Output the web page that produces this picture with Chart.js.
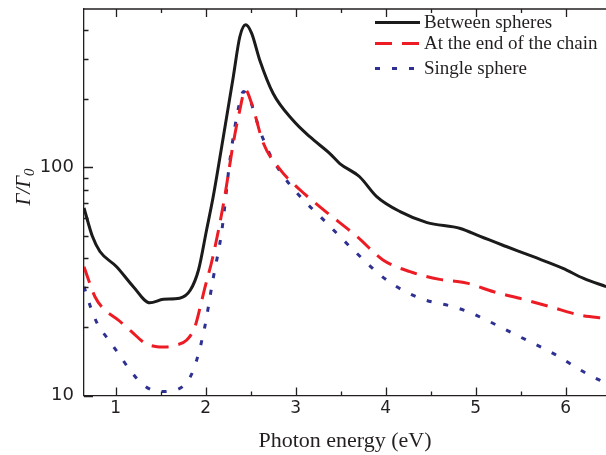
<!DOCTYPE html>
<html>
<head>
<meta charset="utf-8">
<script src="https://cdn.jsdelivr.net/npm/chart.js@4.4.1/dist/chart.umd.min.js"></script>
<style>
  html, body { margin: 0; padding: 0; background: #fff; }
  #chart { display: block; }
</style>
</head>
<body>
<canvas id="chart" width="606" height="455"></canvas>
<script>
// photon energy (eV) / decay-rate enhancement pairs for each configuration
var betweenE = [0.648, 0.74, 0.825, 1.01, 1.196, 1.38, 1.53, 1.71, 1.83, 1.92, 2.01, 2.084, 2.196, 2.307, 2.38, 2.444, 2.51, 2.60, 2.75, 2.97, 3.16, 3.38, 3.49, 3.71, 3.90, 4.16, 4.46, 4.83, 5.05, 5.34, 5.64, 5.97, 6.20, 6.45];
var betweenV = [66.4, 50, 42.8, 36.7, 30.0, 25.5, 26.4, 26.7, 29.0, 35.5, 53.2, 74.5, 136, 250, 375, 422, 388, 296, 211, 161, 136, 115, 104, 91, 74.5, 64, 57.3, 54, 49.8, 45, 40.6, 36.1, 32.6, 30.0];

var endE = [0.648, 0.70, 0.77, 0.86, 1.03, 1.18, 1.33, 1.44, 1.55, 1.66, 1.79, 1.88, 1.94, 1.98, 2.08, 2.20, 2.307, 2.38, 2.44, 2.51, 2.64, 2.83, 3.05, 3.31, 3.68, 3.97, 4.27, 4.60, 4.90, 5.20, 5.53, 5.83, 6.16, 6.45];
var endV = [36.7, 32, 27.1, 24.1, 21.4, 19.0, 16.9, 16.4, 16.3, 16.6, 17.5, 20.0, 24.5, 28.5, 40.6, 70, 128, 179, 219, 191, 128, 97.5, 79.6, 65.2, 49.8, 39.3, 34.9, 32.3, 31.1, 28.5, 26.4, 24.5, 22.5, 21.8];

var singleE = [0.648, 0.72, 0.80, 0.90, 1.03, 1.16, 1.31, 1.49, 1.68, 1.83, 1.90, 1.99, 2.08, 2.18, 2.27, 2.36, 2.42, 2.49, 2.60, 2.71, 2.84, 3.05, 3.31, 3.64, 4.01, 4.38, 4.75, 4.94, 5.12, 5.49, 5.86, 6.23, 6.45];
var singleV = [30.0, 24.5, 20.5, 18.0, 15.3, 12.9, 11.1, 10.4, 10.6, 12.1, 14.3, 20.0, 32.1, 53, 108, 179, 215, 198, 146, 115, 94.4, 74.5, 58.9, 43.5, 32.1, 26.7, 24.5, 23.1, 21.4, 18.1, 15.3, 12.5, 11.3];

var seriesNames = ["Between spheres", "At the end of the chain", "Single sphere"];

var xMajor = [1, 2, 3, 4, 5, 6];
var xMinor = [1.5, 2.5, 3.5, 4.5, 5.5];
var yMajor = [10, 100];
var yMinor = [20, 30, 40, 50, 60, 70, 80, 90, 200, 300, 400];

var X_MIN = 0.648, X_MAX = 6.448;
var Y_MIN = 10, Y_MAX = 495;
var AXIS = "#231f20";

function pairs(xs, ys) {
  var out = [];
  for (var i = 0; i < xs.length; i++) out.push({ x: xs[i], y: ys[i] });
  return out;
}

// ticks on all drawn sides point inwards, plus the top frame line
var frameTicks = {
  id: "frameTicks",
  afterDraw: function (chart) {
    var ctx = chart.ctx;
    var a = chart.chartArea;
    var xs = chart.scales.x, ys = chart.scales.y;
    ctx.save();
    ctx.strokeStyle = AXIS;
    ctx.lineWidth = 1.3;
    ctx.beginPath();
    ctx.moveTo(a.left, a.top);
    ctx.lineTo(a.right, a.top);
    function vt(v, len) {
      var px = Math.round(xs.getPixelForValue(v)) + 0.5;
      ctx.moveTo(px, a.bottom); ctx.lineTo(px, a.bottom - len);
      ctx.moveTo(px, a.top); ctx.lineTo(px, a.top + len);
    }
    function ht(v, len) {
      var py = Math.round(ys.getPixelForValue(v)) + 0.5;
      ctx.moveTo(a.left, py); ctx.lineTo(a.left + len, py);
    }
    xMajor.forEach(function (v) { vt(v, 8); });
    xMinor.forEach(function (v) { vt(v, 4); });
    yMajor.forEach(function (v) { ht(v, 9); });
    yMinor.forEach(function (v) { ht(v, 4.5); });
    ctx.stroke();
    ctx.restore();
  }
};

// rotated Γ/Γ0 label with subscript
var yLabel = {
  id: "yLabel",
  afterDraw: function (chart) {
    var ctx = chart.ctx;
    ctx.save();
    ctx.translate(23, 187);
    ctx.rotate(-Math.PI / 2);
    ctx.fillStyle = AXIS;
    ctx.textBaseline = "alphabetic";
    var main = "italic 21px 'Liberation Serif'";
    var sub = "italic 15px 'Liberation Serif'";
    ctx.font = main;
    var w1 = ctx.measureText("Γ/Γ").width;
    ctx.font = sub;
    var w2 = ctx.measureText("0").width;
    var x0 = -(w1 + w2) / 2;
    ctx.font = main;
    ctx.fillText("Γ/Γ", x0, 7);
    ctx.font = sub;
    ctx.fillText("0", x0 + w1, 11);
    ctx.restore();
  }
};

// legend box in the upper right corner of the plot
var legendBox = {
  id: "legendBox",
  afterDraw: function (chart) {
    var ctx = chart.ctx;
    var rows = [22.5, 43.5, 68.5];
    ctx.save();
    chart.data.datasets.forEach(function (ds, i) {
      var y = rows[i];
      ctx.strokeStyle = ds.borderColor;
      ctx.lineWidth = ds.borderWidth;
      ctx.setLineDash(ds.borderDash || []);
      ctx.beginPath();
      ctx.moveTo(375, y);
      ctx.lineTo(420, y);
      ctx.stroke();
      ctx.setLineDash([]);
      ctx.fillStyle = AXIS;
      ctx.font = "19px 'Liberation Serif'";
      ctx.textBaseline = "middle";
      ctx.fillText(ds.label, 424, y + 1);
    });
    ctx.restore();
  }
};

var ctx = document.getElementById("chart").getContext("2d");
var chart = new Chart(ctx, {
  type: "line",
  data: {
    datasets: [
      {
        label: seriesNames[0],
        data: pairs(betweenE, betweenV),
        borderColor: "#1b1b1b",
        borderWidth: 3,
        pointRadius: 0,
        fill: false,
        cubicInterpolationMode: "monotone"
      },
      {
        label: seriesNames[1],
        data: pairs(endE, endV),
        borderColor: "#ed1c24",
        borderWidth: 3,
        borderDash: [17, 10],
        pointRadius: 0,
        fill: false,
        cubicInterpolationMode: "monotone"
      },
      {
        label: seriesNames[2],
        data: pairs(singleE, singleV),
        borderColor: "#2e3192",
        borderWidth: 3,
        borderDash: [5, 12],
        pointRadius: 0,
        fill: false,
        cubicInterpolationMode: "monotone"
      }
    ]
  },
  options: {
    responsive: false,
    animation: false,
    devicePixelRatio: 1,
    layout: { padding: { top: 9, right: 0, bottom: 0, left: 0 } },
    plugins: {
      legend: { display: false },
      tooltip: { enabled: false }
    },
    scales: {
      x: {
        type: "linear",
        min: X_MIN,
        max: X_MAX,
        afterBuildTicks: function (s) { s.ticks = xMajor.map(function (v) { return { value: v }; }); },
        afterFit: function (s) { s.height = 59.5; s.paddingLeft = 0; s.paddingRight = 0; },
        ticks: {
          autoSkip: false,
          maxRotation: 0,
          padding: 3,
          color: AXIS,
          font: { family: "DejaVu Sans", size: 17 },
          callback: function (v) { return String(v); }
        },
        grid: { display: false, drawTicks: false },
        border: { display: true, color: AXIS, width: 1.3 },
        title: {
          display: true,
          text: "Photon energy (eV)",
          color: AXIS,
          font: { family: "Liberation Serif", size: 22 },
          padding: { top: 0, bottom: 1 }
        }
      },
      y: {
        type: "logarithmic",
        min: Y_MIN,
        max: Y_MAX,
        afterBuildTicks: function (s) { s.ticks = yMajor.map(function (v) { return { value: v }; }); },
        afterFit: function (s) { s.width = 84; s.paddingTop = 0; s.paddingBottom = 0; },
        ticks: {
          padding: 10,
          color: AXIS,
          font: { family: "DejaVu Sans", size: 18 },
          callback: function (v) { return String(v); }
        },
        grid: { display: false, drawTicks: false },
        border: { display: true, color: AXIS, width: 1.3 }
      }
    }
  },
  plugins: [frameTicks, yLabel, legendBox]
});
</script>
</body>
</html>
